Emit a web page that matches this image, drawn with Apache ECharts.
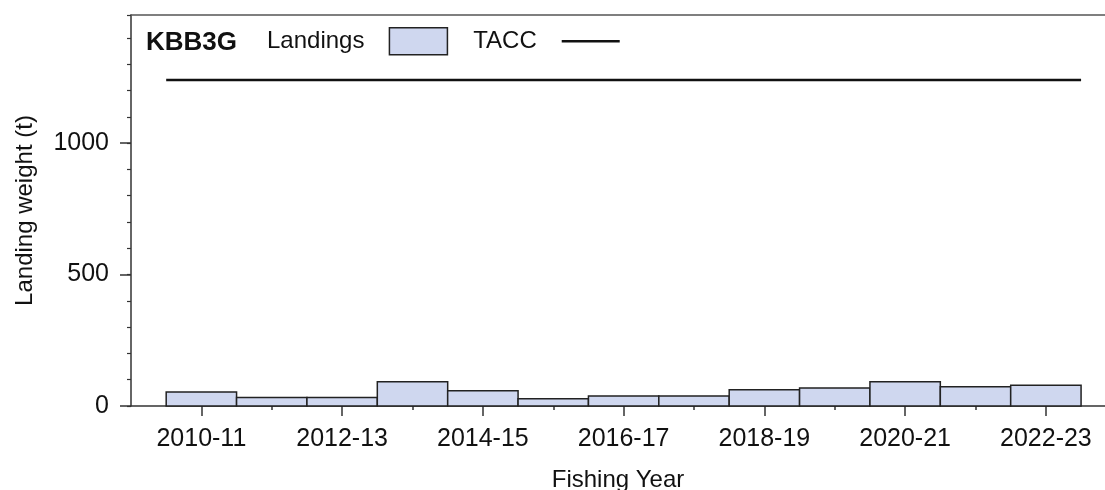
<!DOCTYPE html>
<html>
<head>
<meta charset="utf-8">
<script src="https://cdn.jsdelivr.net/npm/echarts@6/dist/echarts.min.js"></script>
<style>
  html, body { margin: 0; padding: 0; background: #fff; }
  #demo { width: 1105px; height: 490px; }
</style>
</head>
<body>
<div id="demo"></div>
<script>
// fishing years and landings (t)
var years = ['2010-11','2011-12','2012-13','2013-14','2014-15','2015-16','2016-17',
             '2017-18','2018-19','2019-20','2020-21','2021-22','2022-23'];
var landings = [53, 32, 32, 92, 58, 28, 38, 38, 62, 68, 92, 73, 79];
var tacc = 1240;
var yTicks = [0, 500, 1000];

var font = 'Arial, "Liberation Sans", sans-serif';
var ink = '#111';
var axisCol = '#333';
var fill = '#cfd7ef';

var barData = [];
for (var i = 0; i < landings.length; i++) {
    barData.push([i, landings[i]]);
}
var labelIdx = [], minorIdx = [];
for (var i = 0; i < years.length; i++) {
    if (i % 2 == 0) labelIdx.push(i); else minorIdx.push(i);
}

function drawBar(params, api) {
    var i = api.value(0), v = api.value(1);
    var p0 = api.coord([i - 0.5, v]);
    var p1 = api.coord([i + 0.5, 0]);
    return {
        type: 'rect',
        shape: { x: p0[0], y: p0[1], width: p1[0] - p0[0], height: p1[1] - p0[1] },
        style: { fill: fill, stroke: '#222', lineWidth: 1.5 }
    };
}

var mychar = echarts.init(document.getElementById('demo'));
mychar.setOption({
    animation: false,
    title: {
        text: 'KBB3G',
        left: 141,
        top: 25,
        textStyle: { fontFamily: font, fontSize: 26, fontWeight: 'bold', color: ink }
    },
    legend: {
        left: 262,
        top: 22,
        align: 'right',
        itemWidth: 58,
        itemHeight: 27,
        itemGap: 25,
        textStyle: { fontFamily: font, fontSize: 24, color: ink, padding: [0, 20, 0, 0] },
        data: [
            { name: 'Landings', icon: 'rect', itemStyle: { color: fill, borderColor: '#222', borderWidth: 1.5 } },
            { name: 'TACC', itemStyle: { opacity: 0 }, lineStyle: { color: '#111', width: 2.5 } }
        ]
    },
    grid: { left: 131, right: 0, top: 15, bottom: 84, outerBoundsMode: 'none', containLabel: false },
    xAxis: [{
        type: 'value',
        min: -1,
        max: 12.84,
        name: 'Fishing Year',
        nameLocation: 'middle',
        nameGap: 62,
        nameTextStyle: { fontFamily: font, fontSize: 24, color: ink },
        axisLine: { onZero: false, lineStyle: { color: axisCol, width: 1.5 } },
        axisTick: { customValues: labelIdx, length: 10, lineStyle: { color: axisCol, width: 1.5 } },
        axisLabel: {
            customValues: labelIdx,
            margin: 21,
            fontFamily: font, fontSize: 25, color: ink,
            formatter: function (v) { return years[Math.round(v)] || ''; }
        },
        splitLine: { show: false }
    }, {
        type: 'value',
        min: -1,
        max: 12.84,
        position: 'bottom',
        axisLine: { show: false, onZero: false },
        axisTick: { customValues: minorIdx, length: 4, lineStyle: { color: axisCol, width: 1.5 } },
        axisLabel: { show: false },
        splitLine: { show: false }
    }, {
        type: 'value',
        min: -1,
        max: 12.84,
        position: 'top',
        axisLine: { onZero: false, lineStyle: { color: '#555', width: 1.5 } },
        axisTick: { show: false },
        axisLabel: { show: false },
        splitLine: { show: false }
    }],
    yAxis: [{
        type: 'value',
        min: 0,
        max: 1487,
        name: 'Landing weight (t)',
        nameLocation: 'middle',
        nameGap: 94,
        nameTextStyle: { fontFamily: font, fontSize: 24, color: ink },
        axisLine: { show: true, onZero: false, lineStyle: { color: axisCol, width: 1.5 } },
        axisTick: { customValues: yTicks, length: 11, lineStyle: { color: axisCol, width: 1.5 } },
        axisLabel: {
            customValues: yTicks, margin: 22, fontFamily: font, fontSize: 25, color: ink,
            padding: [4, 0, 0, 0],
            formatter: function (v) { return String(v); }
        },
        splitLine: { show: false }
    }, {
        type: 'value',
        min: 0,
        max: 1487,
        interval: 100,
        position: 'left',
        offset: 0,
        axisLine: { show: false, onZero: false },
        axisTick: { length: 4, lineStyle: { color: axisCol, width: 1.2 } },
        axisLabel: { show: false },
        splitLine: { show: false }
    }],
    series: [{
        name: 'Landings',
        type: 'custom',
        xAxisIndex: 0,
        yAxisIndex: 0,
        renderItem: drawBar,
        data: barData,
        itemStyle: { color: fill, borderColor: '#222' }
    }, {
        name: 'TACC',
        type: 'line',
        xAxisIndex: 0,
        yAxisIndex: 0,
        symbol: 'none',
        lineStyle: { color: '#111', width: 2.5 },
        itemStyle: { color: '#111' },
        data: [[-0.5, tacc], [years.length - 0.5, tacc]]
    }]
});
</script>
</body>
</html>
